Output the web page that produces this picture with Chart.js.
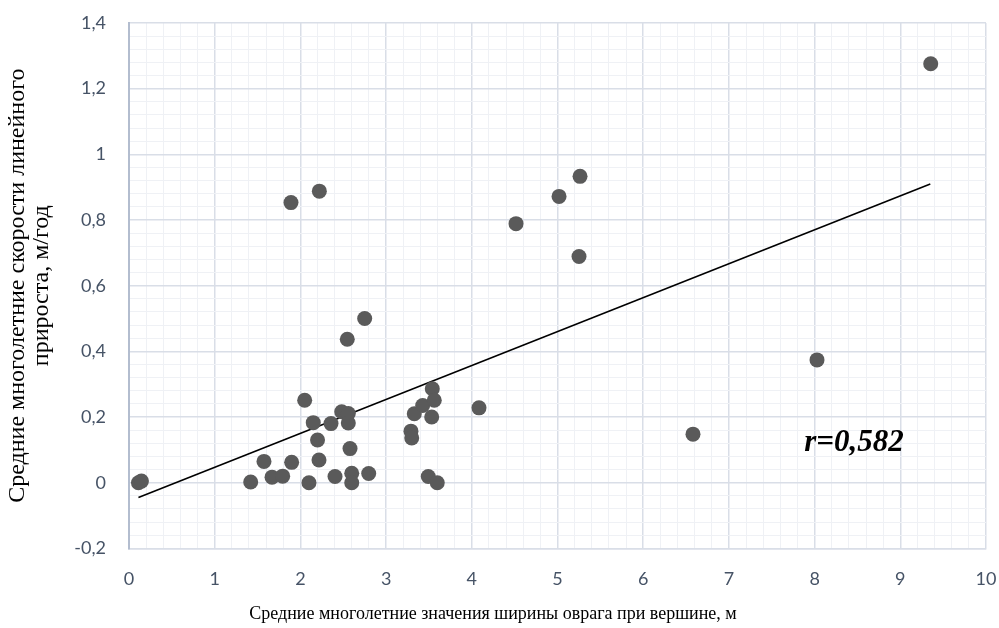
<!DOCTYPE html>
<html lang="ru">
<head>
<meta charset="utf-8">
<script src="https://cdn.jsdelivr.net/npm/chart.js@4.4.1/dist/chart.umd.min.js"></script>
<style>
  html, body { margin: 0; padding: 0; background: #ffffff; }
  #wrap { width: 999px; height: 628px; position: relative; }
</style>
</head>
<body>
<div id="wrap"><canvas id="chart" width="999" height="628"></canvas></div>
<script>
// Средняя ширина оврага при вершине, м
const widthM = [
  0.11, 0.145, 1.42, 1.575, 1.669, 1.793, 1.898, 2.10, 2.05, 2.15,
  2.20, 2.217, 2.357, 2.404, 2.482, 2.559, 2.559, 2.579, 2.599, 2.599,
  2.797, 3.29, 3.299, 3.329, 3.427, 3.532, 3.539, 3.562, 3.492, 3.597,
  4.084, 1.890, 2.221, 2.547, 2.750, 4.516, 5.018, 5.263, 5.251, 9.355,
  8.028, 6.581
];
// Средняя скорость линейного прироста, м/год
const growthRate = [
  0.0, 0.005, 0.002, 0.065, 0.017, 0.020, 0.062, 0.0, 0.251, 0.183,
  0.130, 0.069, 0.180, 0.019, 0.216, 0.211, 0.182, 0.104, 0.029, 0.0,
  0.028, 0.157, 0.136, 0.210, 0.235, 0.200, 0.286, 0.251, 0.019, 0.0,
  0.228, 0.853, 0.888, 0.437, 0.500, 0.789, 0.872, 0.933, 0.689, 1.276,
  0.374, 0.148
];
// Линия тренда (концевые точки)
const trendX = [0.11, 9.35];
const trendY = [-0.045, 0.91];

// Подписи делений
const xTickValues = [0, 1, 2, 3, 4, 5, 6, 7, 8, 9, 10];
const xTickLabels = ['0', '1', '2', '3', '4', '5', '6', '7', '8', '9', '10'];
const yTickValues = [-0.2, 0, 0.2, 0.4, 0.6, 0.8, 1, 1.2, 1.4];
const yTickLabels = ['-0,2', '0', '0,2', '0,4', '0,6', '0,8', '1', '1,2', '1,4'];

const rText = 'r=0,582';
const rPos = [8.46, 0.122];

const points = widthM.map((x, i) => ({ x: x, y: growthRate[i] }));
const trend = trendX.map((x, i) => ({ x: x, y: trendY[i] }));

function labelFor(values, labels, v) {
  for (let i = 0; i < values.length; i++) {
    if (Math.abs(values[i] - v) < 1e-6) return labels[i];
  }
  return '';
}
function isMajor(values, v) {
  return values.some(m => Math.abs(m - v) < 1e-6);
}

const MAJOR = '#d9dee7';
const MINOR = '#eff1f5';
const TICK_COLOR = '#465366';
const SERIF = '"Liberation Serif", "Times New Roman", serif';

const rLabelPlugin = {
  id: 'rLabel',
  afterDatasetsDraw(chart) {
    const { ctx, scales } = chart;
    const px = scales.x.getPixelForValue(rPos[0]);
    const py = scales.y.getPixelForValue(rPos[1]);
    ctx.save();
    ctx.font = 'italic bold 31px ' + SERIF;
    ctx.fillStyle = '#000000';
    ctx.textAlign = 'center';
    ctx.textBaseline = 'middle';
    ctx.fillText(rText, px, py);
    ctx.restore();
  }
};

new Chart(document.getElementById('chart'), {
  type: 'scatter',
  data: {
    datasets: [
      {
        label: 'trend',
        type: 'line',
        data: trend,
        borderColor: '#000000',
        borderWidth: 1.6,
        pointRadius: 0,
        fill: false,
        tension: 0,
        order: 2
      },
      {
        label: 'points',
        data: points,
        backgroundColor: '#5a5a5a',
        borderColor: '#5a5a5a',
        borderWidth: 0,
        pointRadius: 7.5,
        pointHoverRadius: 7.5,
        order: 1
      }
    ]
  },
  options: {
    responsive: false,
    animation: false,
    devicePixelRatio: 1,
    layout: { padding: { left: 0, right: 13, top: 23, bottom: 0 } },
    plugins: {
      legend: { display: false },
      tooltip: { enabled: false },
      title: {
        display: true,
        position: 'bottom',
        text: 'Средние многолетние значения ширины оврага при вершине, м',
        color: '#000000',
        font: { family: SERIF, size: 18, weight: 'normal', lineHeight: 1.2 },
        padding: { top: 0, bottom: 3 }
      }
    },
    scales: {
      x: {
        type: 'linear',
        min: 0,
        max: 10,
        afterFit(scale) {
          scale.height = 55;
          scale.paddingLeft = 0;
          scale.paddingRight = 0;
        },
        ticks: {
          stepSize: 0.2,
          autoSkip: false,
          maxRotation: 0,
          maxTicksLimit: 1000,
          padding: 20,
          color: TICK_COLOR,
          font: { family: 'Lato, "Open Sans", sans-serif', size: 18 },
          callback: (v) => labelFor(xTickValues, xTickLabels, v)
        },
        grid: {
          drawTicks: false,
          color: (ctx) => isMajor(xTickValues, ctx.tick.value) ? MAJOR : MINOR,
          lineWidth: (ctx) => isMajor(xTickValues, ctx.tick.value) ? 1.5 : 1
        },
        border: { display: true, color: MAJOR, width: 1.5 }
      },
      y: {
        type: 'linear',
        min: -0.2,
        max: 1.4,
        afterFit(scale) {
          scale.width = 129;
          scale.paddingTop = 0;
          scale.paddingBottom = 0;
        },
        ticks: {
          stepSize: 0.04,
          autoSkip: false,
          maxTicksLimit: 1000,
          padding: 23,
          color: TICK_COLOR,
          font: { family: 'Lato, "Open Sans", sans-serif', size: 18 },
          callback: (v) => labelFor(yTickValues, yTickLabels, v)
        },
        grid: {
          drawTicks: false,
          color: (ctx) => isMajor(yTickValues, ctx.tick.value) ? MAJOR : MINOR,
          lineWidth: (ctx) => isMajor(yTickValues, ctx.tick.value) ? 1.5 : 1
        },
        border: { display: true, color: '#b3bdcf', width: 2 },
        title: {
          display: true,
          text: ['Средние многолетние скорости линейного', 'прироста, м/год'],
          color: '#000000',
          font: { family: SERIF, size: 24, lineHeight: 1.0 },
          padding: { top: 6, bottom: 0 }
        }
      }
    }
  },
  plugins: [rLabelPlugin]
});
</script>
</body>
</html>
